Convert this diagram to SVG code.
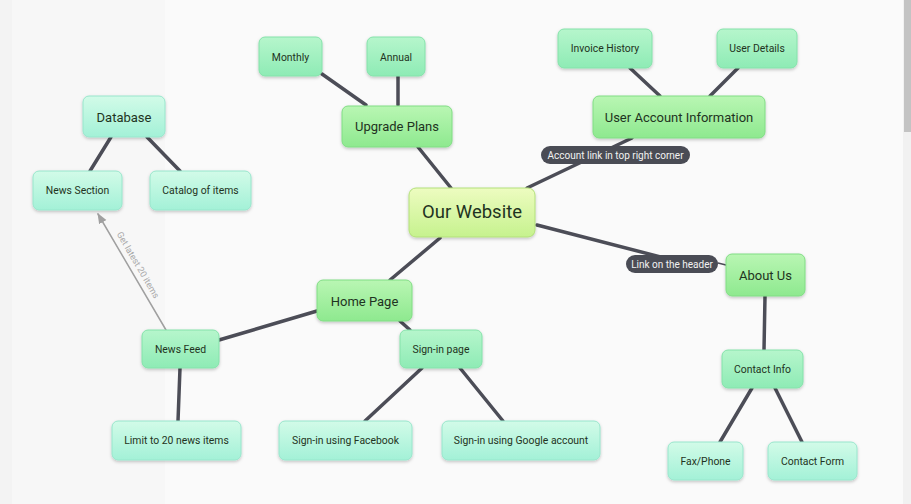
<svg xmlns="http://www.w3.org/2000/svg" width="911" height="504" viewBox="0 0 911 504">
<defs>
<linearGradient id="gCore" x1="0" y1="0" x2="0" y2="1"><stop offset="0" stop-color="#edfcc0"/><stop offset="1" stop-color="#c6f28e"/></linearGradient>
<linearGradient id="gGreen" x1="0" y1="0" x2="0" y2="1"><stop offset="0" stop-color="#b9f6b3"/><stop offset="1" stop-color="#8ee98f"/></linearGradient>
<linearGradient id="gMid" x1="0" y1="0" x2="0" y2="1"><stop offset="0" stop-color="#b6f6cc"/><stop offset="1" stop-color="#8eebb5"/></linearGradient>
<linearGradient id="gAqua" x1="0" y1="0" x2="0" y2="1"><stop offset="0" stop-color="#d2fbe8"/><stop offset="1" stop-color="#a3f1d7"/></linearGradient>
<filter id="sh" x="-20%" y="-20%" width="140%" height="150%"><feDropShadow dx="0" dy="1.5" stdDeviation="1.5" flood-color="#000" flood-opacity="0.22"/></filter>
<marker id="arr" viewBox="0 0 10 10" refX="9" refY="5" markerWidth="7" markerHeight="7" orient="auto"><path d="M0,1 L10,5 L0,9 z" fill="#a0a0a0"/></marker>
</defs>
<style>
.n rect{filter:url(#sh);stroke-width:1}
.core rect{fill:url(#gCore);stroke:#b3e07a}
.grn rect{fill:url(#gGreen);stroke:#80dd84}
.mid rect{fill:url(#gMid);stroke:#84e2aa}
.aq rect{fill:url(#gAqua);stroke:#98e6cc}
.n text{font-family:Roboto,"Liberation Sans",sans-serif;fill:#1f3321;text-anchor:middle;dominant-baseline:central}
.t11{font-size:10.4px}.t14{font-size:13px}.t18{font-size:18.5px}
.c line{stroke:#4c4d57;stroke-width:3.5;stroke-linecap:round}
.pill rect{fill:#4a4c55}
.pill text{font-family:Roboto,"Liberation Sans",sans-serif;font-size:10px;fill:#f2f2f2;text-anchor:middle;dominant-baseline:central}
</style>
<rect x="0" y="0" width="911" height="504" fill="#fafafa"/>
<rect x="0" y="0" width="165" height="504" fill="#f7f7f7"/>
<rect x="0" y="0" width="12" height="504" fill="#f3f3f3"/>
<rect x="903" y="0" width="8" height="504" fill="#f1f1f1"/>
<rect x="904" y="0" width="7" height="132" fill="#c3c3c3"/>

<g id="connectors" class="c">
<line x1="451" y1="188" x2="418" y2="147"/>
<line x1="527" y1="188" x2="632" y2="138"/>
<line x1="537" y1="225" x2="680" y2="262"/>
<line x1="718" y1="263" x2="726" y2="265" style="stroke-width:1.5"/>
<line x1="440" y1="238" x2="390" y2="280"/>
<line x1="317" y1="311" x2="219" y2="340"/>
<line x1="400" y1="321" x2="410" y2="330"/>
<line x1="180" y1="368" x2="178" y2="421"/>
<line x1="422" y1="368" x2="365" y2="421"/>
<line x1="460" y1="368" x2="503" y2="421"/>
<line x1="765" y1="296" x2="764" y2="350"/>
<line x1="752" y1="388" x2="720" y2="442"/>
<line x1="775" y1="388" x2="802" y2="442"/>
<line x1="111" y1="137" x2="90" y2="171"/>
<line x1="147" y1="137" x2="180" y2="171"/>
<line x1="322" y1="74" x2="366" y2="105"/>
<line x1="398" y1="76" x2="398" y2="105"/>
<line x1="630" y1="68" x2="660" y2="96"/>
<line x1="738" y1="68" x2="710" y2="96"/>
<line x1="166" y1="330" x2="98" y2="214" style="stroke:#a0a0a0;stroke-width:1.5" marker-end="url(#arr)"/>
<text x="138" y="265" transform="rotate(59.8 138 265)" font-family="Roboto,'Liberation Sans',sans-serif" font-size="9" fill="#a8a8a8" text-anchor="middle" dominant-baseline="central">Get latest 20 items</text>
</g>

<g id="label-account" class="pill"><rect x="541" y="146" width="149" height="18" rx="9"/><text x="615.5" y="155">Account link in top right corner</text></g>
<g id="label-header" class="pill"><rect x="626" y="255" width="92" height="18" rx="9"/><text x="672" y="264">Link on the header</text></g>

<g id="our-website" class="n core"><rect x="409" y="188" width="126" height="49" rx="7"/><text class="t18" x="472" y="212">Our Website</text></g>
<g id="upgrade-plans" class="n grn"><rect x="342" y="106" width="110" height="41" rx="6"/><text class="t14" x="397" y="126">Upgrade Plans</text></g>
<g id="monthly" class="n mid"><rect x="259" y="37" width="63" height="39" rx="6"/><text class="t11" x="290.5" y="57">Monthly</text></g>
<g id="annual" class="n mid"><rect x="367" y="37" width="58" height="39" rx="6"/><text class="t11" x="396" y="57">Annual</text></g>
<g id="user-account" class="n grn"><rect x="593" y="96" width="172" height="42" rx="6"/><text class="t14" x="679" y="117">User Account Information</text></g>
<g id="invoice-history" class="n mid"><rect x="558" y="29" width="94" height="39" rx="6"/><text class="t11" x="605" y="48">Invoice History</text></g>
<g id="user-details" class="n mid"><rect x="717" y="29" width="80" height="39" rx="6"/><text class="t11" x="757" y="48">User Details</text></g>
<g id="database" class="n aq"><rect x="83" y="96" width="82" height="41" rx="6"/><text class="t14" x="124" y="117">Database</text></g>
<g id="news-section" class="n aq"><rect x="33" y="171" width="89" height="39" rx="6"/><text class="t11" x="77.5" y="190">News Section</text></g>
<g id="catalog" class="n aq"><rect x="150" y="171" width="101" height="39" rx="6"/><text class="t11" x="200.5" y="190">Catalog of items</text></g>
<g id="home-page" class="n grn"><rect x="317" y="280" width="95" height="41" rx="6"/><text class="t14" x="364.5" y="301">Home Page</text></g>
<g id="news-feed" class="n mid"><rect x="142" y="330" width="77" height="38" rx="6"/><text class="t11" x="180.5" y="349">News Feed</text></g>
<g id="signin-page" class="n mid"><rect x="400" y="330" width="82" height="38" rx="6"/><text class="t11" x="441" y="349">Sign-in page</text></g>
<g id="limit" class="n aq"><rect x="112" y="421" width="129" height="39" rx="6"/><text class="t11" x="176.5" y="440">Limit to 20 news items</text></g>
<g id="signin-facebook" class="n aq"><rect x="279" y="421" width="133" height="39" rx="6"/><text class="t11" x="345.5" y="440">Sign-in using Facebook</text></g>
<g id="signin-google" class="n aq"><rect x="442" y="421" width="158" height="39" rx="6"/><text class="t11" x="521" y="440">Sign-in using Google account</text></g>
<g id="about-us" class="n grn"><rect x="726" y="254" width="79" height="42" rx="6"/><text class="t14" x="765.5" y="275">About Us</text></g>
<g id="contact-info" class="n mid"><rect x="722" y="350" width="81" height="38" rx="6"/><text class="t11" x="762.5" y="369">Contact Info</text></g>
<g id="fax-phone" class="n aq"><rect x="668" y="442" width="75" height="38" rx="6"/><text class="t11" x="705.5" y="461">Fax/Phone</text></g>
<g id="contact-form" class="n aq"><rect x="768" y="442" width="89" height="38" rx="6"/><text class="t11" x="812.5" y="461">Contact Form</text></g>
</svg>
